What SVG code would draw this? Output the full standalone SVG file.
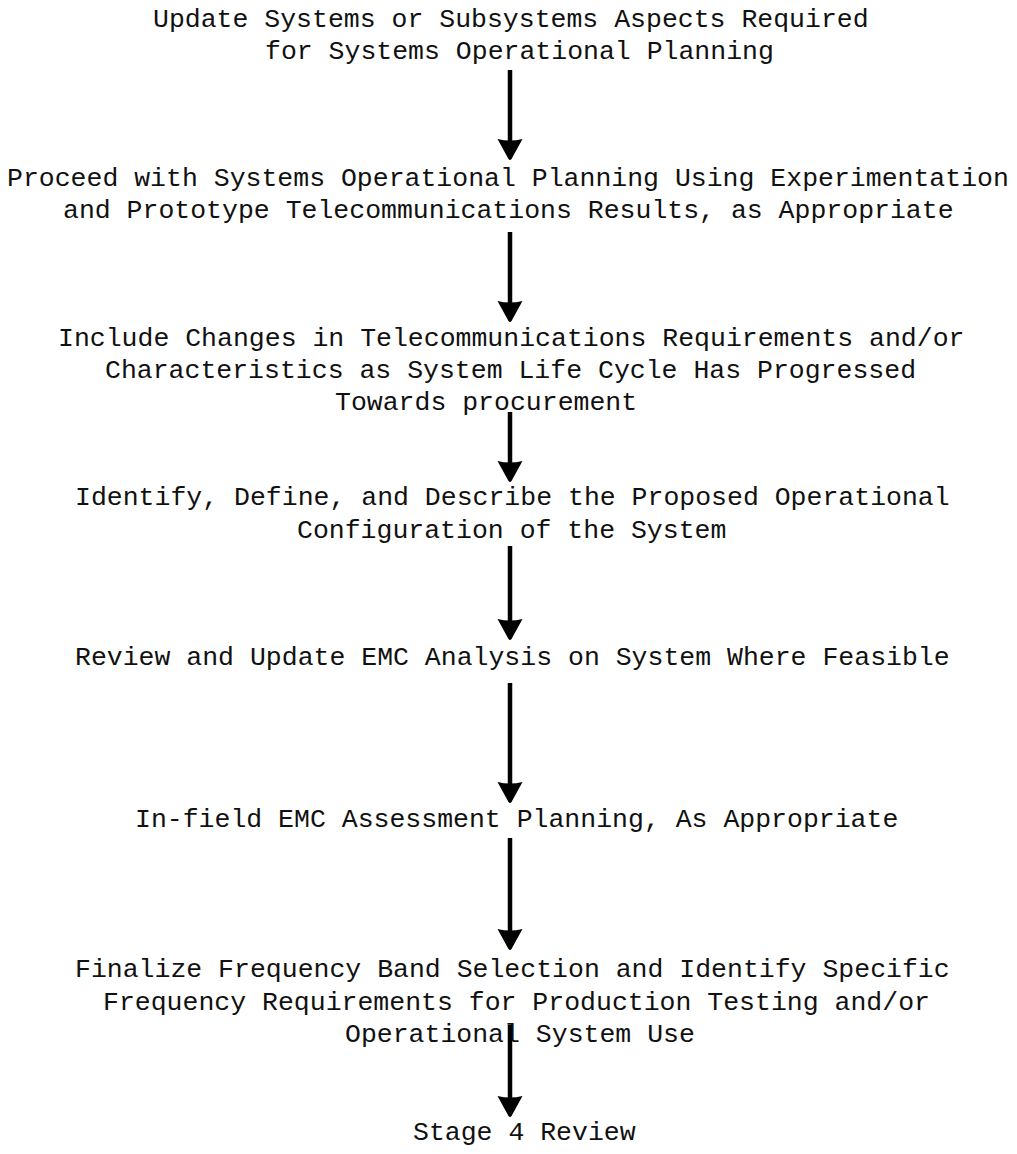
<svg xmlns="http://www.w3.org/2000/svg" width="1017" height="1154" viewBox="0 0 1017 1154">
  <style>
    .t { font-family: "Liberation Mono", "DejaVu Sans Mono", monospace; font-size: 26.5px; fill: #111; }
    .link { stroke: #000; stroke-width: 4.5; fill: none; }
  </style>
  <defs>
    <!-- rounded typewriter-era arrowhead, tip at origin pointing down -->
    <path id="head" d="M -12.5,-21 Q 0,-18 12.5,-21 L 1.5,-1 Q 0,1 -1.5,-1 Z" fill="#000"/>
  </defs>
  <rect width="1017" height="1154" fill="#fff"/>

  <g id="step1">
    <text class="t" x="153" y="27">Update Systems or Subsystems Aspects Required</text>
    <text class="t" x="265" y="59">for Systems Operational Planning</text>
  </g>
  <g id="step2">
    <text class="t" x="7" y="186">Proceed with Systems Operational Planning Using Experimentation</text>
    <text class="t" x="63" y="218">and Prototype Telecommunications Results, as Appropriate</text>
  </g>
  <g id="step3">
    <text class="t" x="58" y="346">Include Changes in Telecommunications Requirements and/or</text>
    <text class="t" x="105" y="378">Characteristics as System Life Cycle Has Progressed</text>
    <text class="t" x="335" y="410">Towards procurement</text>
  </g>
  <g id="step4">
    <text class="t" x="75" y="505">Identify, Define, and Describe the Proposed Operational</text>
    <text class="t" x="297" y="538">Configuration of the System</text>
  </g>
  <g id="step5">
    <text class="t" x="75" y="665">Review and Update EMC Analysis on System Where Feasible</text>
  </g>
  <g id="step6">
    <text class="t" x="135" y="827">In-field EMC Assessment Planning, As Appropriate</text>
  </g>
  <g id="step7">
    <text class="t" x="75" y="977">Finalize Frequency Band Selection and Identify Specific</text>
    <text class="t" x="103" y="1010">Frequency Requirements for Production Testing and/or</text>
    <text class="t" x="345" y="1042">Operational System Use</text>
  </g>
  <g id="step8">
    <text class="t" x="413" y="1140">Stage 4 Review</text>
  </g>

  <g id="connectors">
    <line class="link" x1="510" y1="70" x2="510" y2="142"/>
    <use href="#head" x="510" y="160"/>
    <line class="link" x1="510" y1="232" x2="510" y2="304"/>
    <use href="#head" x="510" y="322"/>
    <line class="link" x1="510" y1="412" x2="510" y2="464"/>
    <use href="#head" x="510" y="482"/>
    <line class="link" x1="510" y1="546" x2="510" y2="622"/>
    <use href="#head" x="510" y="640"/>
    <line class="link" x1="510" y1="683" x2="510" y2="785"/>
    <use href="#head" x="510" y="803"/>
    <line class="link" x1="510" y1="838" x2="510" y2="932"/>
    <use href="#head" x="510" y="950"/>
    <line class="link" x1="510" y1="1025" x2="510" y2="1099"/>
    <use href="#head" x="510" y="1117"/>
  </g>
</svg>
